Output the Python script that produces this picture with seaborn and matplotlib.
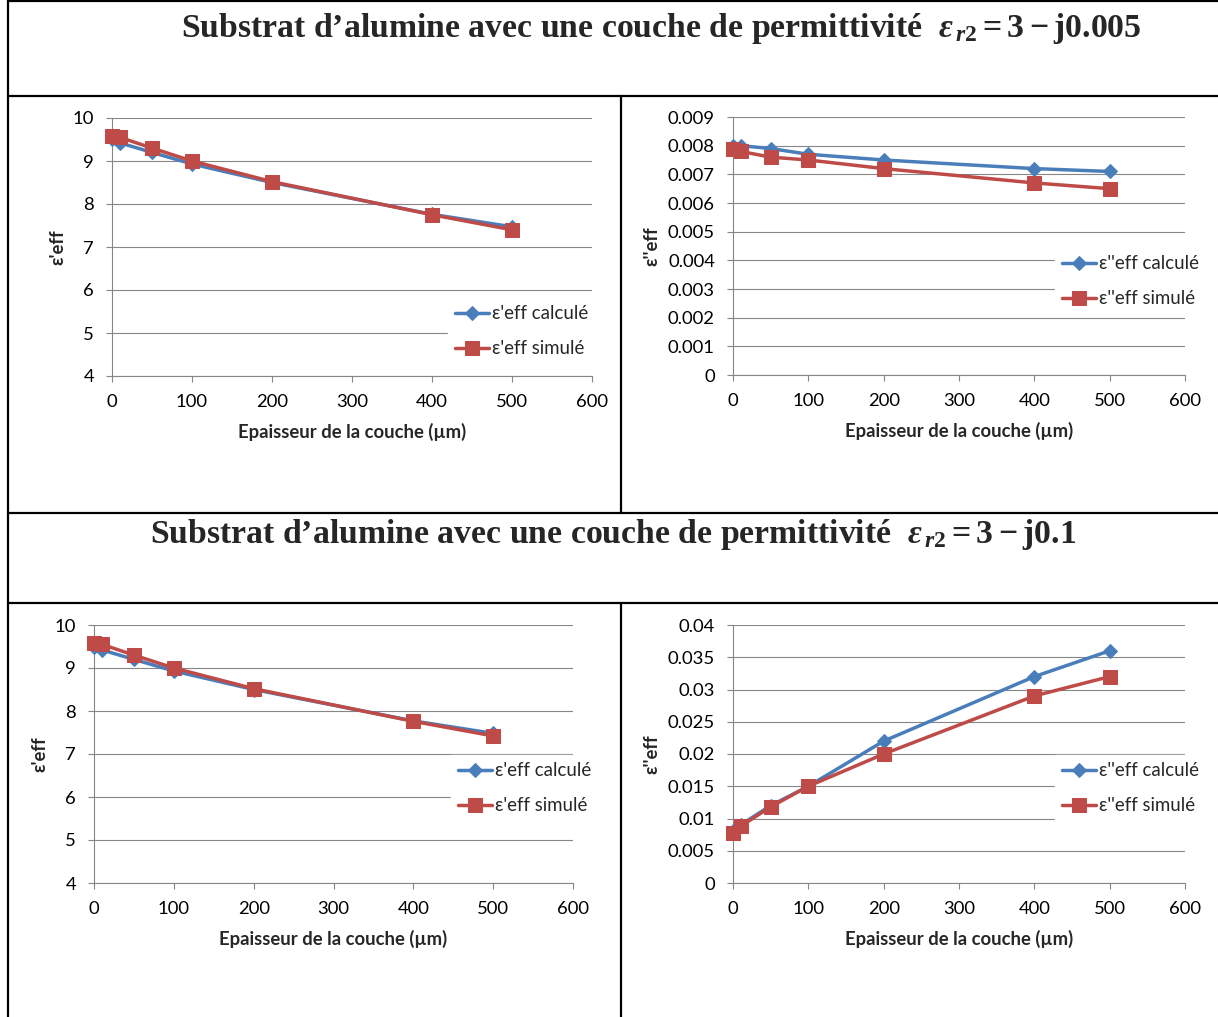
import matplotlib
matplotlib.use('Agg')
import matplotlib.pyplot as plt
import pandas as pd
import seaborn as sb
from matplotlib.lines import Line2D

# epaisseur de la couche (um)
epaisseur = [0, 10, 50, 100, 200, 400, 500]

# couche 3 - j0.005
re_calc_1 = [9.50, 9.42, 9.20, 8.93, 8.50, 7.76, 7.47]
re_sim_1 = [9.58, 9.55, 9.30, 9.00, 8.52, 7.75, 7.40]
im_calc_1 = [0.0080, 0.0080, 0.0079, 0.0077, 0.0075, 0.0072, 0.0071]
im_sim_1 = [0.0079, 0.0078, 0.0076, 0.0075, 0.0072, 0.0067, 0.0065]

# couche 3 - j0.1
re_calc_2 = [9.50, 9.42, 9.20, 8.93, 8.50, 7.77, 7.48]
re_sim_2 = [9.58, 9.55, 9.30, 9.00, 8.52, 7.76, 7.42]
im_calc_2 = [0.0080, 0.0090, 0.0120, 0.0150, 0.0220, 0.0320, 0.0360]
im_sim_2 = [0.0078, 0.0088, 0.0118, 0.0150, 0.0200, 0.0290, 0.0320]

titres = ['Substrat d\u2019alumine avec une couche de permittivit\u00e9  $\\varepsilon_{\\,r2} = 3 - \\mathrm{j}0.005$',
          'Substrat d\u2019alumine avec une couche de permittivit\u00e9  $\\varepsilon_{\\,r2} = 3 - \\mathrm{j}0.1$']
xlab = 'Epaisseur de la couche (\u00b5m)'

sb.set_theme(style = 'white')
plt.rcParams['font.family'] = ['Lato', 'Noto Sans', 'DejaVu Sans']
plt.rcParams['mathtext.fontset'] = 'custom'
plt.rcParams['mathtext.rm'] = 'Liberation Serif:bold'
plt.rcParams['mathtext.bf'] = 'Liberation Serif:bold'
plt.rcParams['mathtext.it'] = 'Liberation Serif:italic:bold'

W, H = 1218, 1017
fig = plt.figure(figsize = (W/100, H/100), dpi = 100)
fig.patch.set_facecolor('white')

blue = '#4a7ebb'
red = '#be4b48'
grey = '#868686'

def px_rect(l, r, t, b):
    return [l/W, 1 - b/H, (r-l)/W, (b-t)/H]

def panel(rect, calc, sim, ylab, labs, ylim, step, leg_lt, ylab_x):
    ax = fig.add_axes(px_rect(*rect))
    sb.lineplot(x = epaisseur, y = calc, ax = ax, color = blue, lw = 2.5, marker = 'D', markersize = 7.5,
                markeredgecolor = blue, label = labs[0], clip_on = False, zorder = 3)
    sb.lineplot(x = epaisseur, y = sim, ax = ax, color = red, lw = 2.5, marker = 's', markersize = 10,
                markeredgecolor = red, label = labs[1], clip_on = False, zorder = 4)
    ax.set_xlim(0, 600)
    ax.set_ylim(*ylim)
    ax.set_xticks(range(0, 601, 100))
    yt = [round(ylim[0] + i*step, 6) for i in range(int(round((ylim[1]-ylim[0])/step)) + 1)]
    ax.set_yticks(yt)
    ax.set_yticklabels(['%g' % v for v in yt])
    ax.yaxis.grid(True, color = grey, lw = 0.8)
    ax.xaxis.grid(False)
    for s in ['top', 'right']:
        ax.spines[s].set_visible(False)
    for s in ['left', 'bottom']:
        ax.spines[s].set_color(grey)
        ax.spines[s].set_linewidth(0.8)
    ax.tick_params(axis = 'both', which = 'major', direction = 'out', length = 4, width = 0.8,
                   color = grey, labelsize = 13.3, labelcolor = 'black', pad = 9, bottom = True, left = True)
    ax.set_xlabel(xlab, fontsize = 13.3, fontweight = 'bold')
    ax.set_ylabel(ylab, fontsize = 13.3, fontweight = 'bold')
    ax.xaxis.set_label_coords(0.5, -0.18)
    ax.yaxis.set_label_coords(ylab_x, 0.5)
    leg = ax.legend(loc = 'upper left', bbox_to_anchor = (leg_lt[0]/W, 1 - leg_lt[1]/H),
                    bbox_transform = fig.transFigure, frameon = True, fancybox = False,
                    fontsize = 13.4, handlelength = 1.8, handletextpad = 0.15, labelspacing = 0.95,
                    borderpad = 0.4, borderaxespad = 0, numpoints = 1)
    leg.get_frame().set_facecolor('white')
    leg.get_frame().set_edgecolor('white')
    leg.get_frame().set_alpha(1)
    leg.set_zorder(5)
    return ax

panel((112, 592, 118, 376), re_calc_1, re_sim_1, "\u03b5'eff",
      ["\u03b5'eff calcul\u00e9", "\u03b5'eff simul\u00e9"], (4, 10), 1, (448, 298), -0.095)
panel((733, 1185, 117, 375), im_calc_1, im_sim_1, "\u03b5''eff",
      ["\u03b5''eff calcul\u00e9", "\u03b5''eff simul\u00e9"], (0, 0.009), 0.001, (1055, 248), -0.16)
panel((94, 573, 625, 883), re_calc_2, re_sim_2, "\u03b5'eff",
      ["\u03b5'eff calcul\u00e9", "\u03b5'eff simul\u00e9"], (4, 10), 1, (451, 755), -0.095)
panel((733, 1185, 625, 883), im_calc_2, im_sim_2, "\u03b5''eff",
      ["\u03b5''eff calcul\u00e9", "\u03b5''eff simul\u00e9"], (0, 0.04), 0.005, (1055, 755), -0.16)

# titres du tableau
fig.text(661/W, 1 - 28/H, titres[0], ha = 'center', va = 'center', fontsize = 24.3,
         family = 'Liberation Serif', fontweight = 'bold')
fig.text(613/W, 1 - 535/H, titres[1], ha = 'center', va = 'center', fontsize = 24.3,
         family = 'Liberation Serif', fontweight = 'bold')

# bordures du tableau
def trait(x0, y0, x1, y1):
    fig.add_artist(Line2D([x0/W, x1/W], [1 - y0/H, 1 - y1/H], transform = fig.transFigure,
                          color = 'black', lw = 1.6))

trait(8, 1, W, 1)
trait(8, 0, 8, H)
trait(8, 96, W, 96)
trait(621, 96, 621, 513)
trait(8, 513, W, 513)
trait(8, 603, W, 603)
trait(621, 603, 621, H)

plt.savefig('out.png', dpi = 100)
